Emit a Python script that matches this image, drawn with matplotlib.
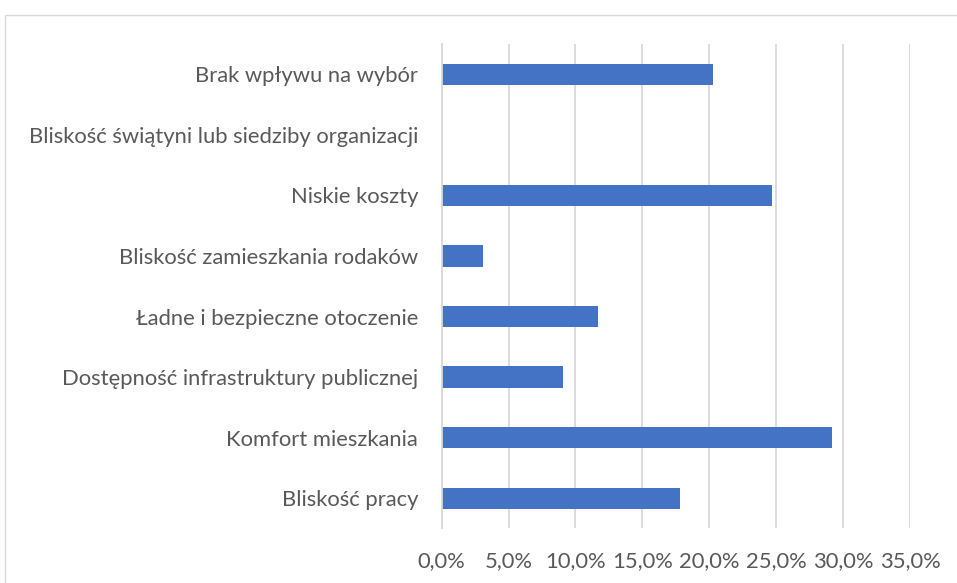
import matplotlib.pyplot as plt
from matplotlib.patches import Rectangle
from matplotlib.ticker import FuncFormatter, MultipleLocator

categories = [
    "Bliskość pracy",
    "Komfort mieszkania",
    "Dostępność infrastruktury publicznej",
    "Ładne i bezpieczne otoczenie",
    "Bliskość zamieszkania rodaków",
    "Niskie koszty",
    "Bliskość świątyni lub siedziby organizacji",
    "Brak wpływu na wybór",
]
shares = [17.8, 29.2, 9.1, 11.7, 3.1, 24.7, 0.0, 20.3]

BAR_COLOR = "#4472C4"
GRID_COLOR = "#D9D9D9"
TEXT_COLOR = "#595959"

plt.rcParams["font.family"] = ["Lato", "DejaVu Sans"]

fig = plt.figure(figsize=(9.57, 5.83), dpi=100)
ax = fig.add_axes([0.4615, 0.0935, 0.4895, 0.831])

ax.barh(range(len(categories)), shares, height=0.35, color=BAR_COLOR)

ax.set_xlim(0, 35)
ax.set_ylim(-0.5, len(categories) - 0.5)
ax.xaxis.set_major_locator(MultipleLocator(5))
ax.xaxis.set_major_formatter(FuncFormatter(lambda v, _: f"{v:.1f}%".replace(".", ",")))
ax.set_yticks(range(len(categories)))
ax.set_yticklabels(categories)

ax.grid(axis="x", color=GRID_COLOR, linewidth=1.3)
ax.set_axisbelow(True)
for side in ["top", "right", "bottom"]:
    ax.spines[side].set_visible(False)
ax.spines["left"].set_color(GRID_COLOR)
ax.spines["left"].set_linewidth(1.3)

ax.tick_params(axis="both", length=0, labelsize=15.8, colors=TEXT_COLOR)
ax.tick_params(axis="y", pad=17)
ax.tick_params(axis="x", pad=16)

# chart area border
fig.patches.append(Rectangle((5 / 957, -0.1), 1.1, 1 - 15 / 583 + 0.1,
                             transform=fig.transFigure, fill=False,
                             edgecolor=GRID_COLOR, linewidth=1.0))

fig.savefig("out.png", dpi=100)
